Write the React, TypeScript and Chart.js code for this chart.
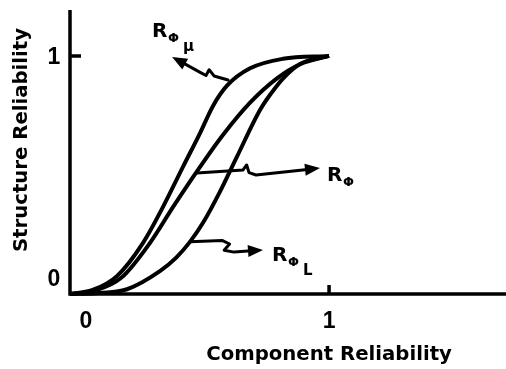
import { useEffect, useRef } from "react";
import { Chart, registerables } from "chart.js";

Chart.register(...registerables);

// ---- data ----
const xTickValues = [0, 1];
const xTickLabels = ["0", "1"];
const yTickValues = [0, 1];
const yTickLabels = ["0", "1"];

const xTitle = "Component Reliability";
const yTitle = "Structure Reliability";

// R_phi_mu (upper bound)
const upperX = [0, 0.09, 0.181, 0.282, 0.359, 0.436, 0.502, 0.552, 0.606, 0.695, 0.822, 1];
const upperY = [0, 0.018, 0.075, 0.215, 0.366, 0.534, 0.676, 0.79, 0.875, 0.948, 0.988, 1];

// R_phi (exact)
const middleX = [0, 0.1, 0.2, 0.309, 0.398, 0.502, 0.591, 0.695, 0.799, 0.888, 1];
const middleY = [0, 0.015, 0.07, 0.215, 0.366, 0.534, 0.669, 0.804, 0.906, 0.965, 1];

// R_phi_L (lower bound)
const lowerX = [0, 0.1, 0.22, 0.347, 0.41, 0.463, 0.514, 0.579, 0.645, 0.734, 0.78, 0.822, 0.888, 1];
const lowerY = [0, 0.003, 0.02, 0.096, 0.153, 0.219, 0.3, 0.43, 0.578, 0.774, 0.848, 0.905, 0.966, 1];

const xMax = 1.683;
const yMax = 1.193;

// annotation arrows (data units), last point is the arrow tip
const arrowMu = [[0.61, 0.899], [0.556, 0.916], [0.537, 0.942], [0.525, 0.918], [0.506, 0.929], [0.394, 0.996]];
const arrowR = [[0.49, 0.508], [0.668, 0.521], [0.682, 0.542], [0.691, 0.51], [0.718, 0.5], [0.965, 0.529]];
const arrowL = [[0.463, 0.219], [0.587, 0.225], [0.616, 0.21], [0.595, 0.184], [0.633, 0.176], [0.745, 0.185]];

const labelMu = { x: 0.317, y: 1.08, sub: "\u03bc" };
const labelR = { x: 0.992, y: 0.475, sub: "" };
const labelL = { x: 0.78, y: 0.139, sub: "L" };

function pts(xs: number[], ys: number[]) {
  return xs.map((x, i) => ({ x, y: ys[i] }));
}

const DIGIT_FONT = '"Liberation Sans", Arial, sans-serif';
const TITLE_FONT = '"DejaVu Sans", sans-serif';

const decorPlugin = {
  id: "decor",
  afterDraw(chart: any) {
    const ctx: CanvasRenderingContext2D = chart.ctx;
    const xs = chart.scales.x;
    const ys = chart.scales.y;
    const px = (v: number) => xs.getPixelForValue(v);
    const py = (v: number) => ys.getPixelForValue(v);
    ctx.save();
    ctx.strokeStyle = "#000";
    ctx.fillStyle = "#000";
    // axes
    ctx.lineWidth = 3.5;
    ctx.lineCap = "butt";
    ctx.beginPath();
    ctx.moveTo(px(0), ys.top);
    ctx.lineTo(px(0), py(0) + 1.75);
    ctx.moveTo(px(0) - 1.75, py(0));
    ctx.lineTo(xs.right, py(0));
    // tick marks
    ctx.moveTo(px(0), py(1));
    ctx.lineTo(px(0) + 11, py(1));
    ctx.moveTo(px(1), py(0));
    ctx.lineTo(px(1), py(0) - 9);
    ctx.stroke();

    // tick labels
    ctx.font = `bold 23px ${DIGIT_FONT}`;
    ctx.textAlign = "center";
    ctx.textBaseline = "middle";
    xTickValues.forEach((v, i) => {
      ctx.fillText(xTickLabels[i], px(v) + (v === 0 ? 16 : 0), py(0) + 28);
    });
    yTickValues.forEach((v, i) => {
      ctx.fillText(yTickLabels[i], px(0) - 16, py(v) + (v === 0 ? -14 : 2));
    });

    // axis titles
    ctx.font = `bold 19.7px ${TITLE_FONT}`;
    ctx.textBaseline = "alphabetic";
    ctx.fillText(xTitle, px(1), py(0) + 66);
    ctx.save();
    ctx.translate(px(0) - 48, py(0) - 154);
    ctx.rotate(-Math.PI / 2);
    ctx.textBaseline = "middle";
    ctx.fillText(yTitle, 0, 0);
    ctx.restore();

    // arrows
    const drawArrow = (a: number[][]) => {
      ctx.lineWidth = 3;
      ctx.lineJoin = "round";
      ctx.lineCap = "round";
      const p = a.map(([x, y]) => [px(x), py(y)]);
      const tip = p[p.length - 1];
      const prev = p[p.length - 2];
      const ang = Math.atan2(tip[1] - prev[1], tip[0] - prev[0]);
      const len = 15;
      const bx = tip[0] - len * Math.cos(ang);
      const by = tip[1] - len * Math.sin(ang);
      ctx.beginPath();
      ctx.moveTo(p[0][0], p[0][1]);
      for (let i = 1; i < p.length - 1; i++) ctx.lineTo(p[i][0], p[i][1]);
      ctx.lineTo(bx, by);
      ctx.stroke();
      ctx.beginPath();
      ctx.moveTo(tip[0], tip[1]);
      ctx.lineTo(bx + 6 * Math.sin(ang), by - 6 * Math.cos(ang));
      ctx.lineTo(bx - 6 * Math.sin(ang), by + 6 * Math.cos(ang));
      ctx.closePath();
      ctx.fill();
    };
    drawArrow(arrowMu);
    drawArrow(arrowR);
    drawArrow(arrowL);

    // labels R_Phi_x
    const drawLabel = (l: { x: number; y: number; sub: string }) => {
      const x = px(l.x);
      const y = py(l.y);
      ctx.textAlign = "left";
      ctx.textBaseline = "alphabetic";
      ctx.font = `bold 20px ${TITLE_FONT}`;
      ctx.fillText("R", x, y);
      ctx.font = `bold 13px ${TITLE_FONT}`;
      ctx.fillText("\u03a6", x + 16, y + 5);
      if (l.sub) {
        ctx.font = `bold 15px ${TITLE_FONT}`;
        ctx.fillText(l.sub, x + 31, y + 14);
      }
    };
    drawLabel(labelMu);
    drawLabel(labelR);
    drawLabel(labelL);
    ctx.restore();
  },
};

export default function App() {
  const ref = useRef<HTMLCanvasElement | null>(null);
  useEffect(() => {
    document.body.style.margin = "0";
    const canvas = ref.current;
    if (!canvas) return;
    const lineStyle = {
      borderColor: "#000",
      borderWidth: 4,
      pointRadius: 0,
      cubicInterpolationMode: "monotone" as const,
      fill: false,
      clip: false as any,
    };
    const chart = new Chart(canvas, {
      type: "line",
      data: {
        datasets: [
          { label: "RΦμ", data: pts(upperX, upperY), ...lineStyle },
          { label: "RΦ", data: pts(middleX, middleY), ...lineStyle },
          { label: "RΦL", data: pts(lowerX, lowerY), ...lineStyle },
        ],
      },
      options: {
        responsive: false,
        animation: false,
        layout: { padding: { left: 70, right: 0, top: 10, bottom: 75 } },
        plugins: { legend: { display: false }, tooltip: { enabled: false } },
        scales: {
          x: { type: "linear", min: 0, max: xMax, display: false },
          y: { type: "linear", min: 0, max: yMax, display: false },
        },
      },
      plugins: [decorPlugin],
    });
    return () => chart.destroy();
  }, []);
  return (
    <div style={{ width: 506, height: 369, background: "#fff" }}>
      <canvas ref={ref} width={506} height={369} />
    </div>
  );
}
